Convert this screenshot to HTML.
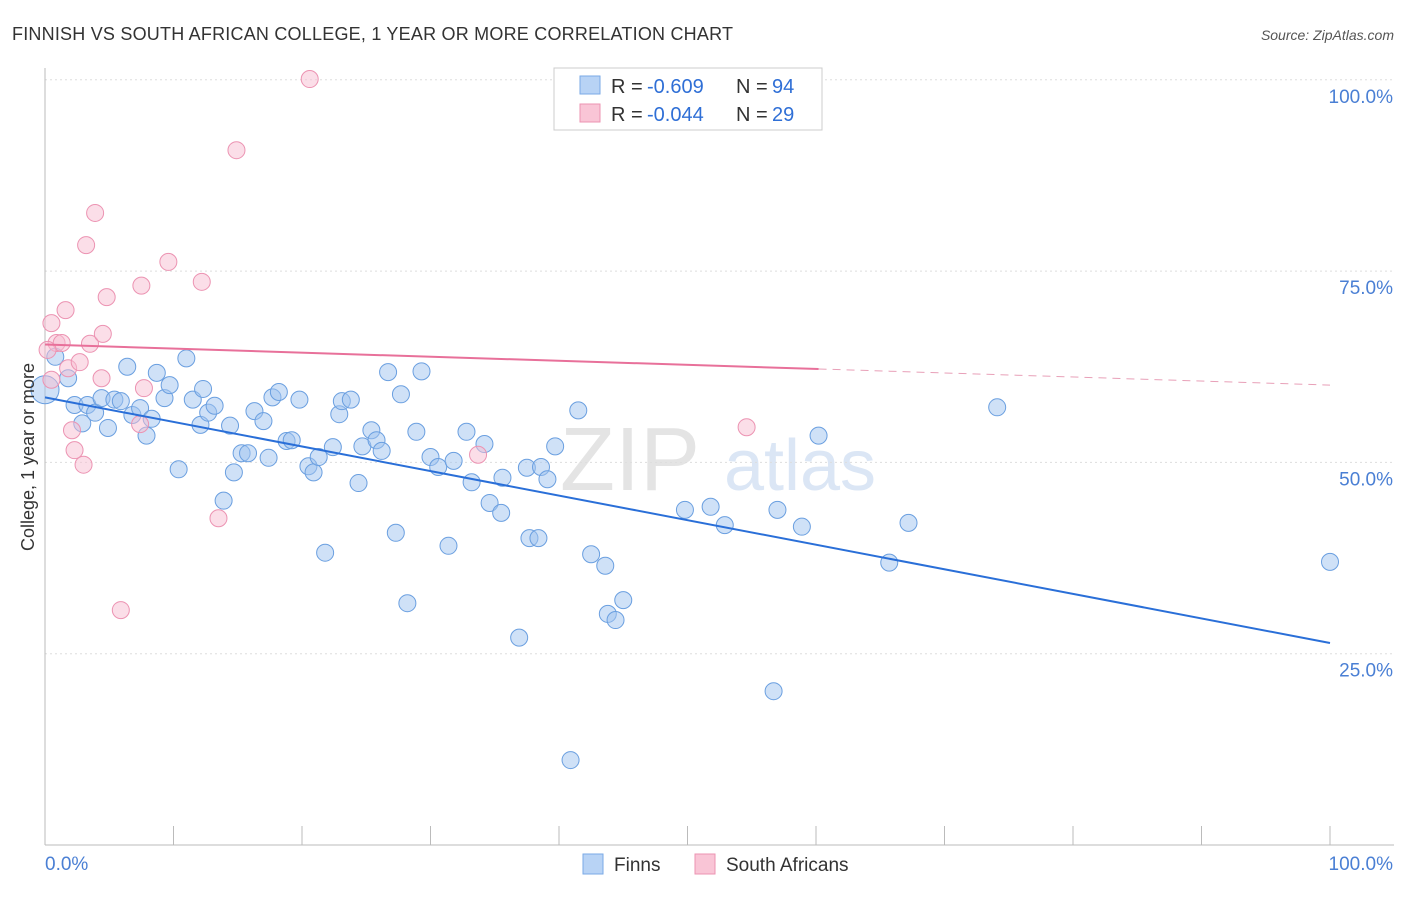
<!DOCTYPE html>
<html><head><meta charset="utf-8"><style>
body{margin:0;background:#fff;font-family:"Liberation Sans",sans-serif}
svg text{font-family:"Liberation Sans",sans-serif}
</style></head><body>
<svg width="1406" height="892">
<text x="12" y="40" font-size="18" fill="#333" textLength="721">FINNISH VS SOUTH AFRICAN COLLEGE, 1 YEAR OR MORE CORRELATION CHART</text>
<text x="1394" y="40" font-size="14" fill="#555" text-anchor="end" font-style="italic">Source: ZipAtlas.com</text>
<text x="630" y="490" font-size="90" fill="#e4e4e4" font-family="Liberation Serif" text-anchor="middle">ZIP</text>
<text x="800" y="490" font-size="72" fill="#dbe6f5" text-anchor="middle">atlas</text>
<g id="grid"></g><g id="axes"></g><g id="pts"></g><g id="lines"></g>
<text transform="translate(34,457) rotate(-90)" font-size="18" fill="#333" text-anchor="middle">College, 1 year or more</text>
<g>
<rect x="554" y="68" width="268" height="62" fill="#fff" stroke="#ccc"/>
<rect x="580" y="76" width="20" height="18" fill="#b8d3f5" stroke="#7aaae6"/>
<text x="611" y="93" font-size="20" fill="#333">R =</text>
<text x="647" y="93" font-size="20" fill="#2f6fd6">-0.609</text>
<text x="736" y="93" font-size="20" fill="#333">N =</text>
<text x="772" y="93" font-size="20" fill="#2f6fd6">94</text>
<rect x="580" y="104" width="20" height="18" fill="#f9c5d6" stroke="#ec93b2"/>
<text x="611" y="121" font-size="20" fill="#333">R =</text>
<text x="647" y="121" font-size="20" fill="#2f6fd6">-0.044</text>
<text x="736" y="121" font-size="20" fill="#333">N =</text>
<text x="772" y="121" font-size="20" fill="#2f6fd6">29</text>
</g>
<g>
<rect x="583" y="854" width="20" height="20" fill="#b8d3f5" stroke="#7aaae6"/>
<text x="614" y="871" font-size="19" fill="#333">Finns</text>
<rect x="695" y="854" width="20" height="20" fill="#f9c5d6" stroke="#ec93b2"/>
<text x="726" y="871" font-size="19" fill="#333">South Africans</text>
</g>
</svg>
<script>
const yTicks=[25,50,75,100];
const yTickLabels=["25.0%","50.0%","75.0%","100.0%"];
const xTickLabels=["0.0%","100.0%"];
const finnsX=[0.8,1.8,2.3,2.9,3.3,3.9,4.4,4.9,5.4,5.9,6.4,6.8,7.4,7.9,8.3,8.7,9.3,9.7,10.4,11.0,11.5,12.1,12.3,12.7,13.2,13.9,14.4,14.7,15.3,15.8,16.3,17.0,17.4,17.7,18.2,18.8,19.2,19.8,20.5,20.9,21.3,21.8,22.4,22.9,23.1,23.8,24.4,24.7,25.4,25.8,26.2,26.7,27.3,27.7,28.2,28.9,29.3,30.0,30.6,31.4,31.8,32.8,33.2,34.2,34.6,35.5,35.6,36.9,37.5,37.7,38.4,38.6,39.1,39.7,40.9,41.5,42.5,43.6,43.8,44.4,45.0,49.8,51.8,52.9,56.7,57.0,58.9,60.2,65.7,67.2,74.1,100,0];
const finnsY=[63.8,61.0,57.5,55.1,57.5,56.5,58.4,54.5,58.2,58.0,62.5,56.2,57.1,53.5,55.7,61.7,58.4,60.1,49.1,63.6,58.2,54.9,59.6,56.5,57.4,45.0,54.8,48.7,51.2,51.2,56.7,55.4,50.6,58.5,59.2,52.8,52.9,58.2,49.5,48.7,50.7,38.2,52.0,56.3,58.0,58.2,47.3,52.1,54.2,52.9,51.5,61.8,40.8,58.9,31.6,54.0,61.9,50.7,49.4,39.1,50.2,54.0,47.4,52.4,44.7,43.4,48.0,27.1,49.3,40.1,40.1,49.4,47.8,52.1,11.1,56.8,38.0,36.5,30.2,29.4,32.0,43.8,44.2,41.8,20.1,43.8,41.6,53.5,36.9,42.1,57.2,37.0,59.5];
const saX=[0.5,0.9,1.3,1.6,1.8,2.1,2.3,2.7,3.0,3.2,3.5,3.9,4.4,4.5,4.8,5.9,7.4,7.7,7.5,9.6,12.2,13.5,14.9,20.6,33.7,54.6,0.2,0.5];
const saY=[68.2,65.6,65.6,69.9,62.3,54.2,51.6,63.1,49.7,78.4,65.5,82.6,61.0,66.8,71.6,30.7,55.0,59.7,73.1,76.2,73.6,42.7,90.8,100.1,51.0,54.6,64.7,60.8];
const finnsTrend=[58.5,26.4];
const saTrend=[65.4,60.1];
const saTrendSolidEnd=60.2;
const X=v=>45+v*12.85, Y=v=>845-v*7.652;
const ns="http://www.w3.org/2000/svg";
function mk(t,a,p){const e=document.createElementNS(ns,t);for(const k in a)e.setAttribute(k,a[k]);p.appendChild(e);return e;}
const grid=document.getElementById('grid'),axes=document.getElementById('axes'),pts=document.getElementById('pts'),lines=document.getElementById('lines');
yTicks.forEach((t,i)=>{
 const g=mk('line',{x1:45,x2:1394,y1:Y(t),y2:Y(t),stroke:'#ddd','stroke-dasharray':'2,3'},grid);
 
 
 const l=mk('text',{x:1393,y:Y(t)+23,'font-size':19,fill:'#4a7fd4','text-anchor':'end'},axes);
 l.textContent=yTickLabels[i];
 
 
});
const xa=mk('line',{x1:45,x2:1394,y1:845,y2:845,stroke:'#bbb'},axes);


const ya=mk('line',{x1:45,x2:45,y1:68,y2:845,stroke:'#bbb'},axes);


for(let i=0;i<=10;i++){const tk=mk('line',{x1:X(i*10),x2:X(i*10),y1:826,y2:845,stroke:'#bbb'},axes);
 
 }
[[0,'start',45],[1,'end',1393]].forEach(([i,a,x])=>{const t=mk('text',{x:x,y:870,'font-size':19,fill:'#4a7fd4','text-anchor':a},axes);t.textContent=xTickLabels[i];
 
 });
finnsX.forEach((v,i)=>{const c=mk('circle',{cx:X(v),cy:Y(finnsY[i]),r:v===0?14:8.5,fill:'rgba(160,196,240,0.5)',stroke:'#6a9fe0','stroke-width':1},pts);
 
 });
saX.forEach((v,i)=>{const c=mk('circle',{cx:X(v),cy:Y(saY[i]),r:8.5,fill:'rgba(248,190,210,0.5)',stroke:'#ec93b2','stroke-width':1},pts);
 
 });
const bl=mk('line',{x1:X(0),y1:Y(finnsTrend[0]),x2:X(100),y2:Y(finnsTrend[1]),stroke:'#2a6fd8','stroke-width':2},lines);


const sm=v=>saTrend[0]+(saTrend[1]-saTrend[0])*v/100;
const pl=mk('line',{x1:X(0),y1:Y(sm(0)),x2:X(saTrendSolidEnd),y2:Y(sm(saTrendSolidEnd)),stroke:'#e8709a','stroke-width':2},lines);


const pd=mk('line',{x1:X(saTrendSolidEnd),y1:Y(sm(saTrendSolidEnd)),x2:X(100),y2:Y(sm(100)),stroke:'#e8a0b8','stroke-width':1,'stroke-dasharray':'8,6'},lines);


</script>
</body></html>
